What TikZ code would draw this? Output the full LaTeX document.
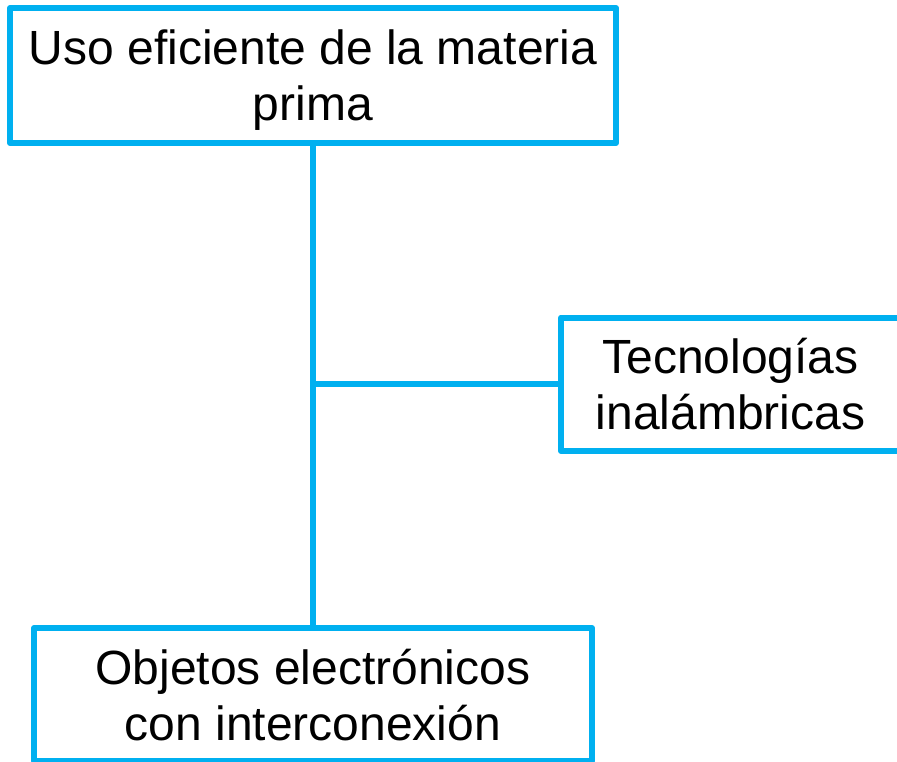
\documentclass[tikz,border=0pt]{standalone}
\usepackage{fontspec}
\setmainfont{Liberation Sans}
\definecolor{lblue}{HTML}{00B0F0}
\newcommand{\mystrut}{\rule[-10pt]{0pt}{55pt}}
\begin{document}
\begin{tikzpicture}[x=1pt,y=-1pt,
  box/.style={draw=lblue,line width=6pt,line join=round,rectangle,inner sep=0pt,
    align=center,font=\fontsize{48}{56}\selectfont,text=black},
  link/.style={draw=lblue,line width=6pt}]
\useasboundingbox (0,0) rectangle (897,762);
\node[box,minimum width=606pt,minimum height=135pt] (top) at (313,75.5) {\mystrut Uso eficiente de la materia\\\mystrut prima};
\node[box,minimum width=339pt,minimum height=133.5pt] (right) at (730.5,384.25) {\mystrut Tecnologías\\\mystrut inalámbricas};
\node[box,minimum width=558pt,minimum height=133pt] (bottom) at (313,694.5) {\mystrut Objetos electrónicos\\\mystrut con interconexión};
\coordinate (j) at (top.south |- right.west);
\draw[link] (top.south) -- (bottom.north);
\draw[link] (j) -- (right.west);
\end{tikzpicture}
\end{document}
